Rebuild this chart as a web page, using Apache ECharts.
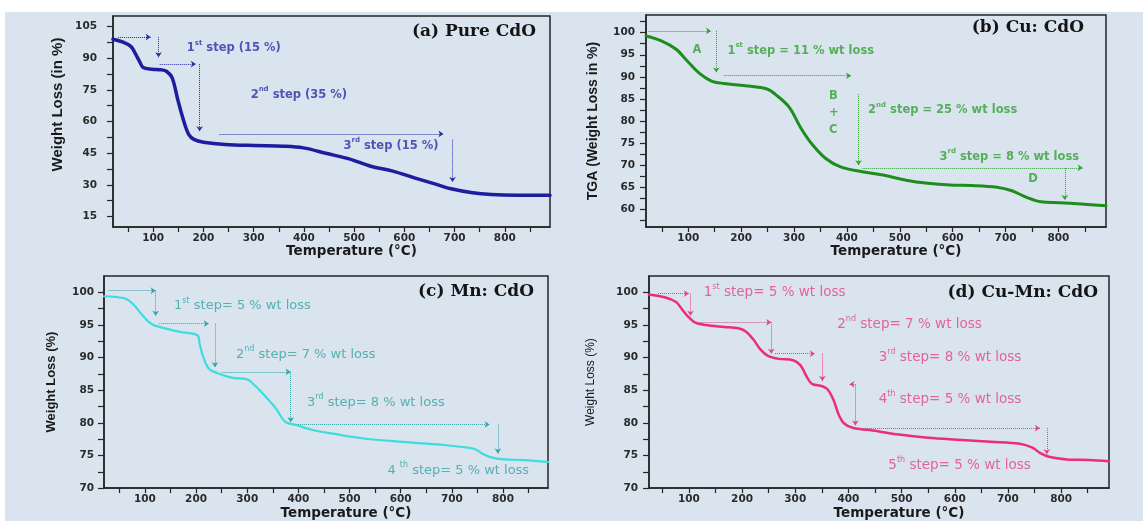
<!DOCTYPE html>
<html><head><meta charset="utf-8">
<script src="https://cdn.jsdelivr.net/npm/echarts@6/dist/echarts.min.js"></script>
<style>html,body{margin:0;padding:0;background:#fff;}#c{width:1143px;height:521px;}</style>
</head><body><div id="c"></div>
<script>
// ---------- data ----------
const tempA = [20,40,56,64,73,80,98,116,127,138,149,160,171,182,200,243,301,359,399,446,490,533,577,620,664,693,736,773,823,890];
const lossA = [99.0,97.6,95.5,92.4,88.4,85.6,84.8,84.5,83.7,80.6,70.3,60.9,53.8,51.4,50.2,49.1,48.6,48.3,47.5,44.8,42.3,38.8,36.5,33.3,30.2,28.1,26.2,25.4,25.1,25.1];

const tempB = [20,50,77,98,119,143,167,208,250,264,291,312,333,360,388,429,471,512,553,595,636,684,712,740,767,802,843,890];
const lossB = [99.25,98.1,96.25,93.6,91.0,89.1,88.5,88.0,87.2,86.1,83.1,78.6,74.9,71.5,69.6,68.5,67.7,66.6,65.9,65.5,65.4,65.0,64.2,62.7,61.7,61.5,61.2,60.8];

const tempC = [20,61,78,96,114,143,171,203,207,214,225,242,271,299,314,335,357,374,399,428,471,528,585,635,685,720,745,759,777,802,841,888];
const lossC = [99.4,99.05,98.1,96.4,95.1,94.4,93.9,93.4,92.1,90.1,88.3,87.6,86.9,86.7,85.8,84.1,82.1,80.2,79.6,78.9,78.3,77.6,77.2,76.9,76.6,76.3,76.0,75.3,74.7,74.4,74.3,74.0];

const tempD = [25,56,76,87,97,111,131,166,193,207,221,234,248,269,296,310,320,331,351,361,372,382,392,409,440,495,550,605,667,722,746,760,777,811,852,890];
const lossD = [99.65,99.2,98.5,97.4,96.4,95.4,95.0,94.7,94.5,94.0,92.8,91.3,90.3,89.8,89.6,88.8,87.3,86.0,85.6,85.1,83.5,81.2,79.9,79.2,78.9,78.2,77.7,77.4,77.1,76.8,76.2,75.4,74.8,74.4,74.3,74.1];

// step guide segments [x1, y1, x2, y2] (data units)
const stepsA = [[30,100,95,100],[110.6,100,110.6,90.5],[113,87.2,185,87.2],[192.5,87.2,192.5,55.4],[232,54.1,678,54.1],[696,51.4,696,31.3]];
const stepsB = [[25,100.4,143,100.4],[153,100.4,153,91.0],[167,90.25,408,90.25],[422,86.1,422,70.0],[429,69.4,846,69.4],[812,69.4,812,62.1]];
const stepsC = [[29,100.25,121,100.25],[121,100.25,121,96.4],[128,95.2,225,95.2],[237,95.2,237,88.5],[250,87.8,385,87.8],[385,87.8,385,80.1],[399,79.75,774,79.75],[790,79.75,790,75.3]];
const stepsD = [[42,99.8,100,99.8],[103,99.8,103,96.4],[107,95.4,255,95.4],[255,95.4,255,90.6],[262,90.6,337,90.6],[351,90.6,351,86.4],[414,85.9,402,85.9],[413,85.9,413,79.6],[420,79.2,760,79.2],[773,79.2,773,75.2]];

// annotations [x, y, text]
const notesA = [[167,94.7,'1{s|st} step (15 %)'],[294,72.7,'2{s|nd} step (35 %)'],[479,48.6,'3{s|rd} step (15 %)']];
const notesB = [[108,96,'A'],[174,95.9,'1{s|st} step = 11 % wt loss'],[366,85.75,'B'],[366,81.8,'+'],[366,77.9,'C'],[440,82.4,'2{s|nd} step = 25 % wt loss'],[575,71.9,'3{s|rd} step = 8 % wt loss'],[743,66.9,'D']];
const notesC = [[157,97.9,'1{s|st} step= 5 % wt loss'],[278,90.5,'2{s|nd} step= 7 % wt loss'],[417,83.1,'3{s|rd} step= 8 % wt loss'],[574,72.7,'4 {s|th} step= 5 % wt loss']];
const notesD = [[128,99.9,'1{s|st} step= 5 % wt loss'],[379,95.1,'2{s|nd} step= 7 % wt loss'],[457,90.0,'3{s|rd} step= 8 % wt loss'],[457,83.5,'4{s|th} step= 5 % wt loss'],[475,73.4,'5{s|th} step= 5 % wt loss']];

// ticks
const xLabels = [100,200,300,400,500,600,700,800];
const xTicks = [50,100,150,200,250,300,350,400,450,500,550,600,650,700,750,800,850];
const yLabelsA = [15,30,45,60,75,90,105];
const yTicksA = [15,22.5,30,37.5,45,52.5,60,67.5,75,82.5,90,97.5,105];
const yLabelsB = [60,65,70,75,80,85,90,95,100];
const yTicksB = [57.5,60,62.5,65,67.5,70,72.5,75,77.5,80,82.5,85,87.5,90,92.5,95,97.5,100,102.5];
const yLabelsCD = [70,75,80,85,90,95,100];
const yTicksCD = [70,72.5,75,77.5,80,82.5,85,87.5,90,92.5,95,97.5,100];

const titles = ['(a) Pure CdO','(b) Cu: CdO','(c) Mn: CdO','(d) Cu-Mn: CdO'];
const yNames = ['Weight Loss (in %)','TGA (Weight Loss in %)','Weight Loss (%)','Weight Loss (%)'];
const xName = 'Temperature (°C)';

// ---------- layout / style ----------
const panels = [
  {temp:tempA, loss:lossA, steps:stepsA, notes:notesA, xMin:20, xMax:890, yMin:10, yMax:110, yL:yLabelsA, yT:yTicksA,
   grid:{left:113, top:16, width:437, height:211}, line:'#1d1d9e', lw:3.5, txt:'#2d2da6', nf:11.5, nw:'bold',
   yNameGap:48, yNameSize:15, yNamePad:[0,0,0,34], yNameWeight:'bold', yLabMargin:16, title:{right:607, top:23}},
  {temp:tempB, loss:lossB, steps:stepsB, notes:notesB, xMin:20, xMax:890, yMin:56, yMax:104, yL:yLabelsB, yT:yTicksB,
   grid:{left:646, top:15, width:460, height:212}, line:'#1f8c1f', lw:3, txt:'#35a035', nf:11.5, nw:'bold',
   yNameGap:46, yNameSize:14, yNamePad:[0,0,0,0], yNameWeight:'bold', yLabMargin:11, title:{right:59, top:19}},
  {temp:tempC, loss:lossC, steps:stepsC, notes:notesC, xMin:20, xMax:888, yMin:70, yMax:102.5, yL:yLabelsCD, yT:yTicksCD,
   grid:{left:104, top:276, width:444, height:215}, line:'#3fdcdc', lw:2.2, txt:'#35a3a3', nf:13, nw:'normal',
   yNameGap:46, yNameSize:13, yNamePad:[0,0,0,0], yNameWeight:'bold', yLabMargin:10, title:{right:609, top:283}},
  {temp:tempD, loss:lossD, steps:stepsD, notes:notesD, xMin:25, xMax:890, yMin:70, yMax:102.5, yL:yLabelsCD, yT:yTicksCD,
   grid:{left:649, top:276, width:460, height:214}, line:'#ec2c7e', lw:2.5, txt:'#e6418a', nf:13.5, nw:'normal',
   yNameGap:52, yNameSize:12, yNamePad:[0,0,0,0], yNameWeight:'normal', yLabMargin:11, title:{right:45, top:284}}
];

const axisCol = '#262626';
const tickFont = {fontFamily:'DejaVu Sans', fontWeight:'bold', fontSize:10.5, color:'#2a2a2a'};

const option = {
  backgroundColor:'transparent',
  animation:false,
  graphic:[{type:'rect', shape:{x:5, y:12, width:1138, height:509}, style:{fill:'#d9e4ef'}, z:-10, silent:true}],
  title:[], grid:[], xAxis:[], yAxis:[], series:[]
};

panels.forEach((p, i) => {
  option.title.push({text:titles[i], right:p.title.right, top:p.title.top, padding:0,
    textStyle:{fontFamily:'DejaVu Serif', fontWeight:'bold', fontSize:17, color:'#151515'}});
  option.grid.push(Object.assign({show:true, borderColor:axisCol, borderWidth:1.5, backgroundColor:'transparent', containLabel:false}, p.grid));
  option.xAxis.push({gridIndex:i, type:'value', min:p.xMin, max:p.xMax,
    axisLine:{show:true, onZero:false, lineStyle:{color:axisCol, width:1.5}},
    axisTick:{show:true, length:5, customValues:xTicks, lineStyle:{color:axisCol, width:1.2}},
    axisLabel:Object.assign({customValues:xLabels, margin:6}, tickFont),
    splitLine:{show:false},
    name:xName, nameLocation:'middle', nameGap:15,
    nameTextStyle:{fontFamily:'DejaVu Sans', fontWeight:'bold', fontSize:13.5, color:'#1a1a1a', padding:[0,0,0,40]}});
  option.yAxis.push({gridIndex:i, type:'value', min:p.yMin, max:p.yMax,
    axisLine:{show:true, onZero:false, lineStyle:{color:axisCol, width:1.5}},
    axisTick:{show:true, length:6, customValues:p.yT, lineStyle:{color:axisCol, width:1.2}},
    axisLabel:Object.assign({customValues:p.yL, margin:p.yLabMargin}, tickFont),
    splitLine:{show:false},
    name:yNames[i], nameLocation:'middle', nameGap:p.yNameGap, nameRotate:90,
    nameTextStyle:{fontFamily:'Liberation Sans', fontWeight:p.yNameWeight, fontSize:p.yNameSize, color:'#1a1a1a', padding:p.yNamePad}});
  option.series.push({type:'line', xAxisIndex:i, yAxisIndex:i, showSymbol:false, symbol:'none',
    smooth:0.35,
    data:p.temp.map((t, k) => [t, p.loss[k]]),
    lineStyle:{color:p.line, width:p.lw, join:'round', cap:'round'}, z:3,
    markLine:{silent:true, symbol:['none','arrow'], symbolSize:[5,5], animation:false,
      lineStyle:{type:'dotted', color:p.txt, width:1}, label:{show:false},
      emphasis:{disabled:true},
      data:p.steps.map(s => [{coord:[s[0], s[1]]}, {coord:[s[2], s[3]]}])}});
  option.series.push({type:'scatter', xAxisIndex:i, yAxisIndex:i, symbolSize:0, silent:true, z:4,
    data:p.notes.map(n => ({value:[n[0], n[1]], label:{formatter:n[2]}})),
    label:{show:true, position:'right', distance:0, color:p.txt, fontFamily:'DejaVu Sans', fontWeight:p.nw,
      fontSize:p.nf, lineHeight:p.nf + 6,
      rich:{s:{fontSize:Math.round(p.nf*0.6), verticalAlign:'top', color:p.txt, fontFamily:'DejaVu Sans', fontWeight:p.nw, lineHeight:p.nf*0.6}}}});
});

const chart = echarts.init(document.getElementById('c'), null, {renderer:'canvas'});
chart.setOption(option);
</script></body></html>
